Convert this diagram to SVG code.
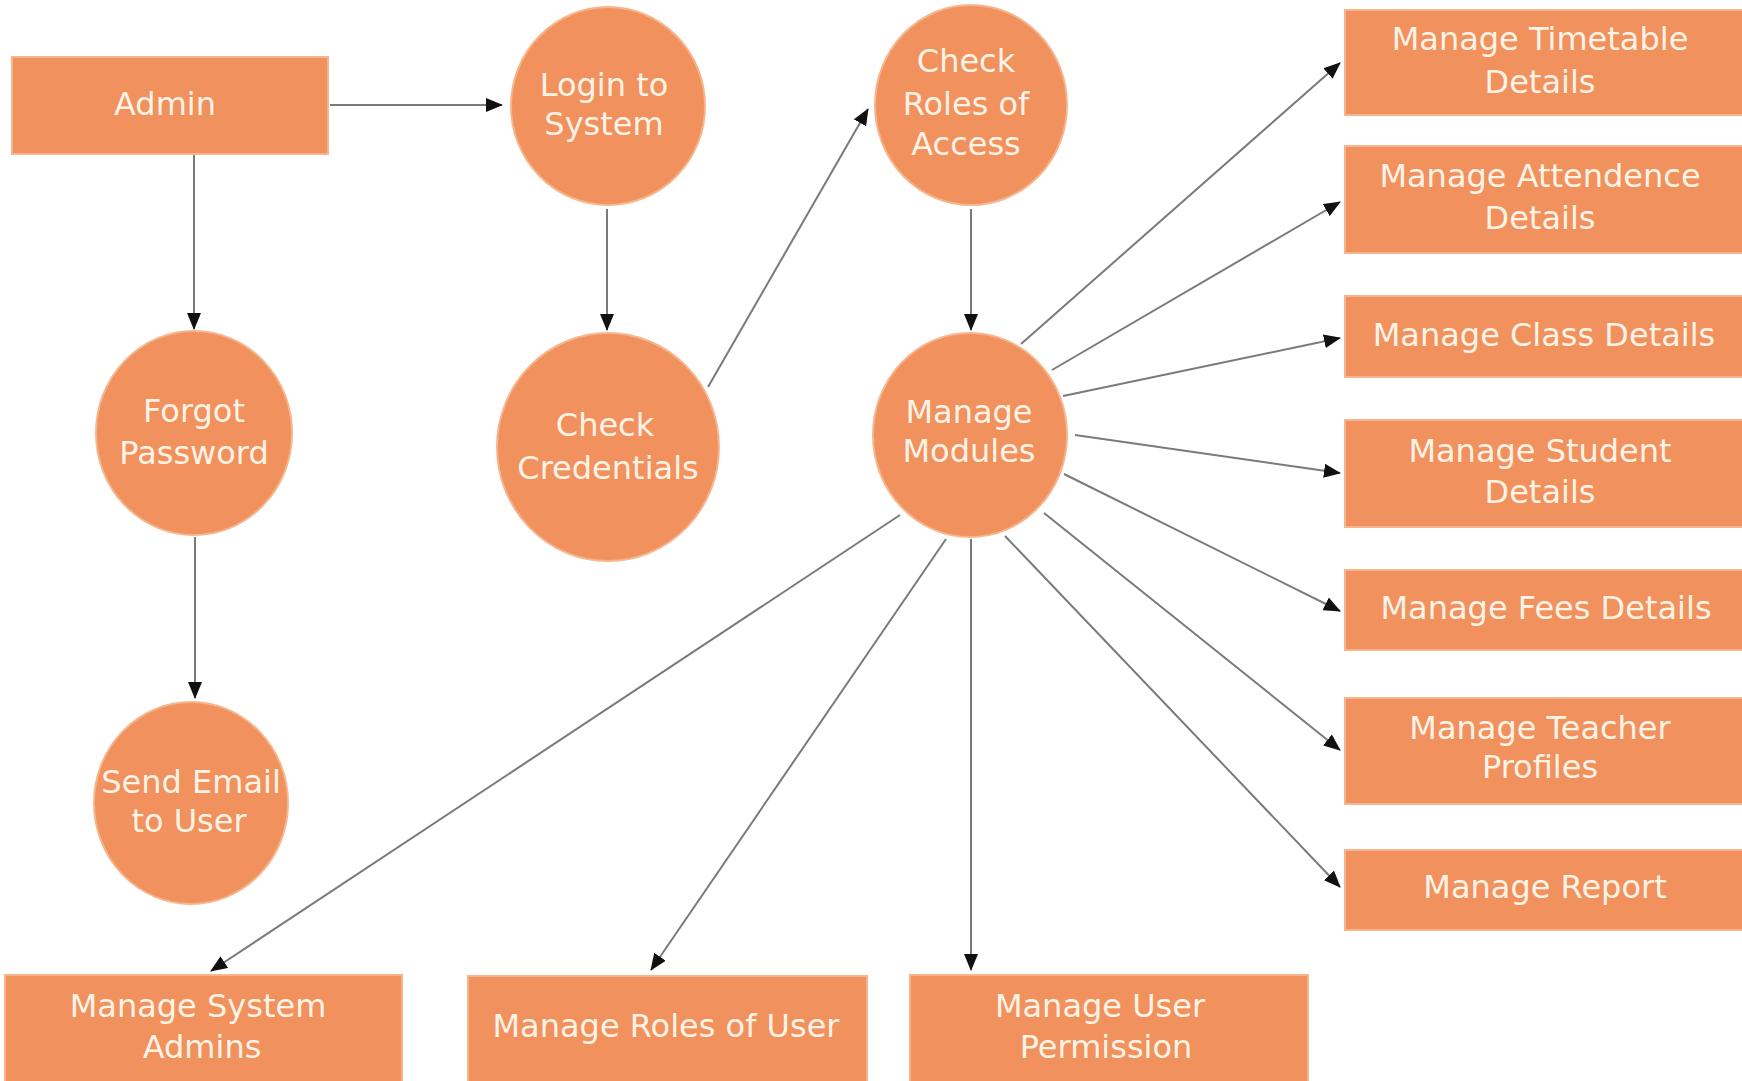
<svg xmlns="http://www.w3.org/2000/svg" width="1742" height="1081" viewBox="0 0 1742 1081">
<defs>
<style>
.n{fill:#F0915E;stroke:#F6B58C;stroke-width:2}
.t{fill:#FFF3E6;font-family:"DejaVu Sans","Verdana",sans-serif;font-size:32px;text-anchor:middle}
.c{stroke:#7A7A7A;stroke-width:2;fill:none;marker-end:url(#ah)}
</style>
<marker id="ah" markerUnits="userSpaceOnUse" markerWidth="17" markerHeight="14" refX="16" refY="7" orient="auto">
<path d="M0,0 L17,7 L0,14 z" fill="#111"/>
</marker>
</defs>
<rect width="1742" height="1081" fill="#FFFFFF"/>
<g id="connectors">
<line class="c" x1="330" y1="105" x2="502" y2="105"/>
<line class="c" x1="194" y1="155" x2="194" y2="329"/>
<line class="c" x1="607" y1="209" x2="607" y2="330"/>
<line class="c" x1="708" y1="387" x2="868" y2="109"/>
<line class="c" x1="971" y1="209" x2="971" y2="330"/>
<line class="c" x1="195" y1="537" x2="195" y2="698"/>
<line class="c" x1="1021" y1="344" x2="1340" y2="63"/>
<line class="c" x1="1052" y1="370" x2="1340" y2="202"/>
<line class="c" x1="1063" y1="396" x2="1340" y2="338"/>
<line class="c" x1="1075" y1="435" x2="1340" y2="473"/>
<line class="c" x1="1064" y1="474" x2="1340" y2="611"/>
<line class="c" x1="1044" y1="513" x2="1340" y2="750"/>
<line class="c" x1="1005" y1="536" x2="1340" y2="887"/>
<line class="c" x1="971" y1="539" x2="971" y2="970"/>
<line class="c" x1="946" y1="539" x2="651" y2="970"/>
<line class="c" x1="900" y1="515" x2="211" y2="971"/>
</g>
<g id="admin"><rect class="n" x="12" y="57" width="316" height="97"/><text class="t" x="165" y="115">Admin</text></g>
<g id="login"><ellipse class="n" cx="608" cy="106" rx="97" ry="99"/><text class="t" x="604" y="96">Login to</text><text class="t" x="604" y="135">System</text></g>
<g id="check-credentials"><ellipse class="n" cx="608" cy="447" rx="111" ry="114"/><text class="t" x="605" y="436">Check</text><text class="t" x="608" y="479">Credentials</text></g>
<g id="forgot-password"><ellipse class="n" cx="194" cy="433" rx="98" ry="102"/><text class="t" x="194" y="422">Forgot</text><text class="t" x="194" y="464">Password</text></g>
<g id="send-email"><ellipse class="n" cx="191" cy="803" rx="97" ry="101"/><text class="t" x="191" y="793">Send Email</text><text class="t" x="189" y="832">to User</text></g>
<g id="check-roles"><ellipse class="n" cx="971" cy="105" rx="96" ry="100"/><text class="t" x="966" y="72">Check</text><text class="t" x="966" y="115">Roles of</text><text class="t" x="966" y="155">Access</text></g>
<g id="manage-modules"><ellipse class="n" cx="970" cy="435" rx="97" ry="102"/><text class="t" x="969" y="423">Manage</text><text class="t" x="969" y="462">Modules</text></g>
<g id="timetable"><rect class="n" x="1345" y="10" width="400" height="105"/><text class="t" x="1540" y="50">Manage Timetable</text><text class="t" x="1540" y="93">Details</text></g>
<g id="attendence"><rect class="n" x="1345" y="146" width="400" height="107"/><text class="t" x="1540" y="187">Manage Attendence</text><text class="t" x="1540" y="229">Details</text></g>
<g id="class"><rect class="n" x="1345" y="296" width="400" height="81"/><text class="t" x="1544" y="346">Manage Class Details</text></g>
<g id="student"><rect class="n" x="1345" y="420" width="400" height="107"/><text class="t" x="1540" y="462">Manage Student</text><text class="t" x="1540" y="503">Details</text></g>
<g id="fees"><rect class="n" x="1345" y="570" width="400" height="80"/><text class="t" x="1546" y="619">Manage Fees Details</text></g>
<g id="teacher"><rect class="n" x="1345" y="698" width="400" height="106"/><text class="t" x="1540" y="739">Manage Teacher</text><text class="t" x="1540" y="778">Profiles</text></g>
<g id="report"><rect class="n" x="1345" y="850" width="400" height="80"/><text class="t" x="1545" y="898">Manage Report</text></g>
<g id="system-admins"><rect class="n" x="5" y="975" width="397" height="110"/><text class="t" x="198" y="1017">Manage System</text><text class="t" x="202" y="1058">Admins</text></g>
<g id="roles-of-user"><rect class="n" x="468" y="976" width="399" height="110"/><text class="t" x="666" y="1037">Manage Roles of User</text></g>
<g id="user-permission"><rect class="n" x="910" y="975" width="398" height="110"/><text class="t" x="1100" y="1017">Manage User</text><text class="t" x="1106" y="1058">Permission</text></g>
</svg>
